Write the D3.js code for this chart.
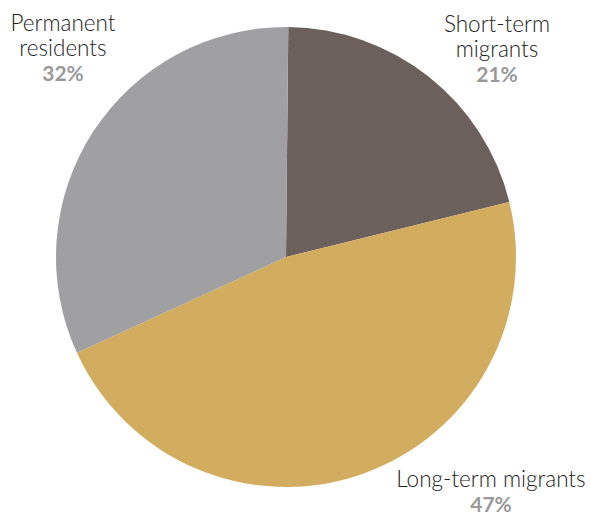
<!DOCTYPE html>
<html>
<head>
<meta charset="utf-8">
<script src="https://cdn.jsdelivr.net/npm/d3@7"></script>
<style>
  body { margin: 0; background: #fff; }
  svg { display: block; }
  .lab { font-family: Lato, "Open Sans", sans-serif; font-weight: 300; font-size: 22.5px; fill: #222; }
  .pct { font-family: Lato, "Open Sans", sans-serif; font-weight: 700; font-size: 21px; fill: #999; }
</style>
</head>
<body>
<svg id="chart" width="590" height="517"></svg>
<script>
const categories = ['Short-term migrants', 'Long-term migrants', 'Permanent residents'];
const shares = [21, 47, 32];
const colours = ['#6b605b', '#d2ad5f', '#a0a0a2'];
// label lines per slice, with centre x and first baseline
const labelLines = [['Short-term', 'migrants'], ['Long-term migrants'], ['Permanent', 'residents']];
const labelPos = [[497, 32], [491, 487], [63, 31]];

const width = 590, height = 517;
const cx = 286, cy = 257, r = 230;

const svg = d3.select('#chart');

const data = categories.map((c, i) => ({ name: c, value: shares[i], colour: colours[i] }));

const pie = d3.pie().sort(null).value(d => d.value)
  .startAngle(0.01).endAngle(0.01 + 2 * Math.PI);
const arc = d3.arc().innerRadius(0).outerRadius(r);

const g = svg.append('g').attr('transform', `translate(${cx},${cy})`);
g.selectAll('path')
  .data(pie(data))
  .enter().append('path')
  .attr('d', arc)
  .attr('fill', d => d.data.colour);

// labels
data.forEach((d, i) => {
  const [x, y] = labelPos[i];
  const t = svg.append('text').attr('text-anchor', 'middle');
  labelLines[i].forEach((line, j) => {
    t.append('tspan').attr('class', 'lab').attr('x', x).attr('y', y + j * 25).text(line);
  });
  t.append('tspan').attr('class', 'pct').attr('x', x).attr('y', y + labelLines[i].length * 25)
    .text(d.value + '%');
});
</script>
</body>
</html>
